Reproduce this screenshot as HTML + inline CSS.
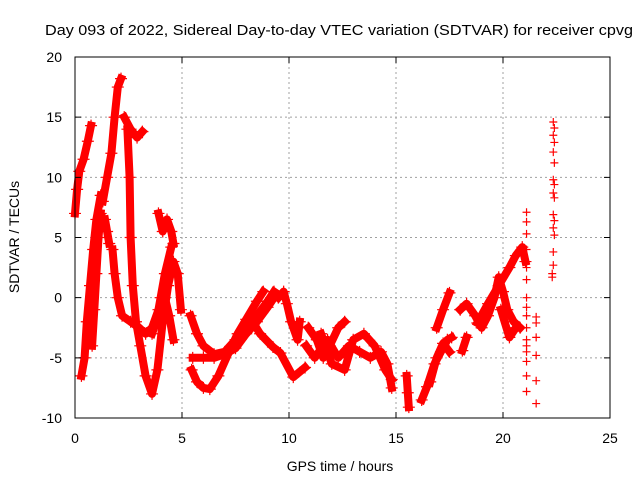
<!DOCTYPE html>
<html><head><meta charset="utf-8"><style>
html,body{margin:0;padding:0;background:#fff;}
svg{display:block;font-family:"Liberation Sans",sans-serif;}
</style></head><body>
<svg id="chart" width="640" height="480" viewBox="0 0 640 480">
<rect width="640" height="480" fill="#fff"/>
<text x="339" y="35" font-size="14.5" text-anchor="middle" textLength="588" lengthAdjust="spacingAndGlyphs">Day 093 of 2022, Sidereal Day-to-day VTEC variation (SDTVAR) for receiver cpvg</text>
<g id="grid"></g>
<g id="marks"></g>
<rect x="75" y="57" width="535" height="361" fill="none" stroke="#000" stroke-width="1"/>
<g id="axes"></g>
<text x="340" y="471" font-size="14" text-anchor="middle">GPS time / hours</text>
<text x="0" y="0" font-size="14" text-anchor="middle" transform="translate(19,237) rotate(-90)">SDTVAR / TECUs</text>
</svg>
<script>
const xTicks=[0,5,10,15,20,25];
const yTicks=[-10,-5,0,5,10,15,20];
// dense traces: [hours, TECU]
const traceA=[[0,7],[0.1,9],[0.2,10.5],[0.4,11.5],[0.6,13],[0.75,14.3]];
const traceB=[[0.3,-6.5],[0.45,-5],[0.55,-2],[0.7,1],[0.85,4],[1.0,6.5],[1.2,8.5]];
const traceC=[[1.3,8],[1.5,10],[1.7,12],[1.85,15],[2.0,17.5],[2.15,18.2]];
const traceD=[[2.3,15],[2.6,14],[2.9,13.3],[3.15,13.8]];
const traceE=[[2.45,14],[2.55,10],[2.6,5],[2.7,1],[2.85,-2],[3.05,-4],[3.3,-6.5],[3.6,-8],[3.85,-6],[4.1,-2],[4.35,1],[4.6,3],[4.8,2],[4.95,-1]];
const traceF=[[1.75,4],[1.85,2],[2.0,0],[2.2,-1.5],[2.6,-2],[3.0,-2.5],[3.3,-3],[3.6,-2.5],[3.9,-1],[4.2,0],[4.4,-1.5],[4.6,-3.5]];
const traceF2=[[4.5,4.2],[4.2,2],[4.0,0],[3.8,-2],[3.6,-3]];
const traceF3=[[3.9,7],[4.1,5.5],[4.3,6.5],[4.5,5.5],[4.6,4.5]];
const traceB2=[[1.4,6.5],[1.5,5.5],[1.6,4.5]];
const traceB3=[[0.8,-4],[0.9,-1],[1.0,2],[1.1,5],[1.2,7]];
const traceG1=[[5.4,-1.5],[5.7,-3],[6.0,-4],[6.5,-4.7],[7.0,-4.5],[7.5,-3.5],[8.0,-2.5],[8.5,-1.5],[9.0,-0.3],[9.3,0.5]];
const traceG2=[[5.5,-5],[6.0,-5],[6.5,-5],[7.0,-4.7],[7.5,-4.2],[8.0,-3],[8.5,-2],[9.0,-0.8],[9.3,0]];
const traceG3=[[5.45,-6],[5.7,-7],[6.0,-7.5],[6.3,-7.6],[6.7,-6.5],[7.2,-4.5],[7.6,-3],[8.0,-1.8],[8.5,-0.3],[8.8,0.5]];
const traceG4=[[8.3,-2],[8.65,-3],[9.25,-4.1],[9.6,-4.6],[10.2,-6.6],[10.75,-5.8]];
const traceG5=[[9.5,0],[9.75,0.5],[9.9,-0.5],[10.1,-2],[10.4,-3.5],[10.5,-2]];
const traceH1=[[10.9,-2.5],[11.3,-3.5],[11.6,-5],[11.9,-4],[12.3,-2.5],[12.6,-2]];
const traceH2=[[10.8,-4],[11.2,-5],[11.8,-3.5],[12.3,-5],[12.8,-4],[13.3,-4.5],[13.8,-5],[14.3,-4.5],[14.6,-5.5],[14.8,-7.5]];
const traceH3=[[11.5,-3],[12.0,-5.5],[12.6,-6],[13.0,-3.5],[13.5,-3],[14.0,-4],[14.5,-6],[14.8,-6.8]];
const traceI1=[[15.5,-6.5],[15.55,-7.9],[15.6,-9.1]];
const traceI2=[[16.2,-8.5],[16.45,-7.4],[16.8,-5.5],[17.1,-4.5],[17.4,-3.5],[17.6,-3.3]];
const traceI3=[[16.6,-7],[16.9,-5],[17.2,-3.8],[17.5,-4.5]];
const traceJ=[[16.9,-2.5],[17.2,-1],[17.5,0.4]];
const traceJ2=[[18.1,-4.4],[18.3,-3.3]];
const traceK=[[18.0,-1],[18.3,-0.5],[18.7,-1.5],[19.0,-2.5],[19.3,-1.5],[19.6,0],[19.8,1.7],[20.0,0.5],[20.2,-1],[20.5,-2],[20.8,-2.5]];
const traceL=[[19.9,-1],[20.3,-3.3],[20.6,-2.5]];
const traceM=[[18.8,-2.1],[19.3,-0.5],[19.8,1],[20.3,2.5],[20.6,3.5],[20.9,4.2],[21.05,3]];
// sparse scattered markers
const scatterH=[21.1,21.1,21.1,21.1,21.1,21.1,21.1,21.1,21.1,21.1,21.1,21.1,21.1,21.1,21.1,21.1,
 21.55,21.55,21.55,21.55,21.55,21.55,
 22.35,22.4,22.35,22.4,22.35,22.4,22.35,22.4,22.35,22.4,22.35,22.4,22.35,22.4,22.35,22.35,22.3,22.3];
const scatterV=[7.1,6.3,5.3,4,2.5,1.5,0,-0.8,-1.5,-2.5,-3.5,-4,-4.5,-5.3,-6.5,-7.8,
 -1.6,-2.1,-3.3,-4.8,-6.9,-8.8,
 14.6,14.1,13.5,12.9,12.1,11.2,9.8,9.4,8.7,8.3,6.9,6.4,5.8,5.2,3.8,2.7,2.0,1.7];
const traces=[traceA,traceB,traceC,traceD,traceE,traceF,traceF2,traceF3,traceB2,traceB3,traceG1,traceG2,traceG3,traceG4,traceG5,traceH1,traceH2,traceH3,traceI1,traceI2,traceI3,traceJ,traceJ2,traceK,traceL,traceM];

const X0=75,X1=610,Y0=418,Y1=57,xmin=0,xmax=25,ymin=-10,ymax=20;
function sx(h){return X0+(h-xmin)/(xmax-xmin)*(X1-X0);}
function sy(v){return Y0-(v-ymin)/(ymax-ymin)*(Y0-Y1);}
const NS='http://www.w3.org/2000/svg';
function mk(tag,attrs,parent){const e=document.createElementNS(NS,tag);for(const k in attrs)e.setAttribute(k,attrs[k]);parent.appendChild(e);return e;}
const grid=document.getElementById('grid'),axes=document.getElementById('axes'),marks=document.getElementById('marks');
xTicks.forEach(t=>{
 const x=sx(t);
 if(t>xmin&&t<xmax){const g=mk('line',{x1:x,x2:x,y1:Y1,y2:Y0,stroke:'#a0a0a0','stroke-dasharray':'2,3'},grid);
 
 }
 const tk=mk('path',{d:`M${x},${Y0}v-6M${x},${Y1}v6`,stroke:'#000'},axes);
 
 
 const tl=mk('text',{x:x,y:443,'font-size':14,'text-anchor':'middle'},axes);tl.textContent=t;
 
 
});
yTicks.forEach(t=>{
 const y=sy(t);
 if(t>ymin&&t<ymax){const g=mk('line',{x1:X0,x2:X1,y1:y,y2:y,stroke:'#a0a0a0','stroke-dasharray':'2,3'},grid);
 
 }
 const tk=mk('path',{d:`M${X0},${y}h6M${X1},${y}h-6`,stroke:'#000'},axes);
 
 
 const tl=mk('text',{x:62,y:y+5,'font-size':14,'text-anchor':'end'},axes);tl.textContent=t;
 
 
});
function plus(h,v,name,s){
 const x=sx(h),y=sy(v);
 const p=mk('path',{d:`M${x-s},${y}h${2*s}M${x},${y-s}v${2*s}`,stroke:'#f00','stroke-width':1.2},marks);
 
 
}
traces.forEach((tr,i)=>{
 if(tr.length>1){
  const d=tr.map((p,j)=>(j?'L':'M')+sx(p[0]).toFixed(1)+','+sy(p[1]).toFixed(1)).join('');
  const pl=mk('path',{d:d,fill:'none',stroke:'#f00','stroke-width':8,'stroke-linejoin':'round','stroke-linecap':'square'},marks);
  
  
 }
 tr.forEach(p=>plus(p[0],p[1],'sdtvar-point',6));
});
scatterH.forEach((h,i)=>plus(h,scatterV[i],'sdtvar-point',4));
</script>
</body></html>
